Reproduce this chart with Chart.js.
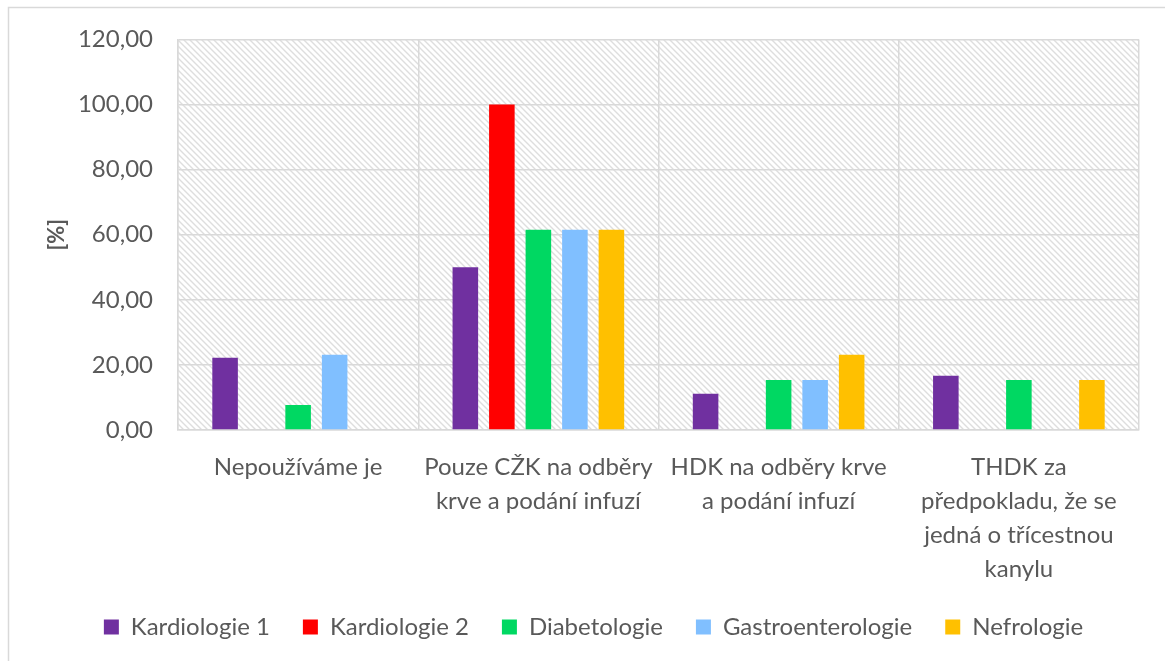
<!DOCTYPE html>
<html>
<head>
<meta charset="utf-8">
<script src="https://cdn.jsdelivr.net/npm/chart.js@4"></script>
<style>
  html, body { margin:0; padding:0; background:#fff; }
  #wrap { width:1165px; height:661px; position:relative; }
</style>
</head>
<body>
<div id="wrap"><canvas id="chart"></canvas></div>
<script>
const categories = [
  "Nepoužíváme je",
  ["Pouze CŽK na odběry", "krve a podání infuzí"],
  ["HDK na odběry krve", "a podání infuzí"],
  ["THDK za", "předpokladu, že se", "jedná o třícestnou", "kanylu"]
];
const seriesNames = ["Kardiologie 1", "Kardiologie 2", "Diabetologie", "Gastroenterologie", "Nefrologie"];
const kardiologie1 = [22.22, 50.00, 11.11, 16.67];
const kardiologie2 = [0, 100.00, 0, 0];
const diabetologie = [7.69, 61.54, 15.38, 15.38];
const gastroenterologie = [23.08, 61.54, 15.38, 0];
const nefrologie = [0, 61.54, 23.08, 15.38];
const seriesColors = ['#7030A0', '#FF0000', '#00D862', '#80BFFF', '#FFC000'];

const FONT = 'Lato, "Noto Sans", sans-serif';
const TXT = '#595959';
const GRID = '#D9D9D9';

function makeHatch(){
  const c = document.createElement('canvas');
  c.width = 6; c.height = 6;
  const g = c.getContext('2d');
  g.fillStyle = '#fff';
  g.fillRect(0, 0, 6, 6);
  g.strokeStyle = '#DEDEDE';
  g.lineWidth = 1.4;
  g.beginPath();
  g.moveTo(-1, -1); g.lineTo(7, 7);
  g.moveTo(-1, 5); g.lineTo(1, 7);
  g.moveTo(5, -1); g.lineTo(7, 1);
  g.stroke();
  return g.createPattern(c, 'repeat');
}

const hatchBg = {
  id: 'hatchBg',
  beforeInit(chart){
    // keep the legend a fixed height so it sits where the original does
    const lg = chart.legend;
    if (lg){
      const fit = lg.fit;
      lg.fit = function(){ fit.call(this); this.height = 79; };
    }
  },
  afterLayout(chart){
    // original legend is centred a bit right of the canvas middle
    if (chart.legend) chart.legend.left += 48;
  },
  beforeDraw(chart){
    const {ctx, chartArea:a} = chart;
    ctx.save();
    ctx.fillStyle = makeHatch();
    ctx.fillRect(a.left, a.top, a.right - a.left, a.bottom - a.top);
    ctx.restore();
  },
  afterDraw(chart){
    const ctx = chart.ctx;
    ctx.save();
    ctx.strokeStyle = GRID;
    ctx.lineWidth = 1.5;
    ctx.strokeRect(8.5, 7.5, 1200, 700);
    ctx.restore();
  }
};

const dataArrays = [kardiologie1, kardiologie2, diabetologie, gastroenterologie, nefrologie];

new Chart(document.getElementById('chart').getContext('2d'), {
  type: 'bar',
  data: {
    labels: categories,
    datasets: seriesNames.map((name, i) => ({
      label: name,
      data: dataArrays[i],
      backgroundColor: seriesColors[i],
      borderWidth: 0,
      categoryPercentage: 0.76,
      barPercentage: 0.70
    }))
  },
  options: {
    animation: false,
    responsive: true,
    maintainAspectRatio: false,
    layout: { padding: { top: 38, right: 26, left: 0, bottom: 0 } },
    scales: {
      x: {
        offset: true,
        grid: { offset: true, color: GRID, lineWidth: 1.5, drawTicks: false },
        border: { color: GRID, width: 1.5 },
        ticks: { color: TXT, font: { family: FONT, size: 24, lineHeight: 1.42 }, padding: 20, maxRotation: 0, autoSkip: false },
        afterFit(scale){ scale.height = 152; }
      },
      y: {
        min: 0, max: 120,
        grid: { color: GRID, lineWidth: 1.5, drawTicks: false },
        border: { color: GRID, width: 1.5 },
        ticks: {
          stepSize: 20, color: TXT, padding: 25,
          font: { family: FONT, size: 24 },
          callback: v => v.toFixed(2).replace('.', ',')
        },
        title: { display: true, text: '[%]', color: TXT, font: { family: FONT, size: 22, weight: 'bold' }, padding: { top: 44, bottom: 0 } },
        afterFit(scale){ scale.width = 178; }
      }
    },
    plugins: {
      legend: {
        position: 'bottom',
        labels: { color: TXT, font: { family: FONT, size: 24 }, boxWidth: 15, boxHeight: 15, padding: 33 }
      },
      tooltip: { enabled: false }
    }
  },
  plugins: [hatchBg]
});
</script>
</body>
</html>
